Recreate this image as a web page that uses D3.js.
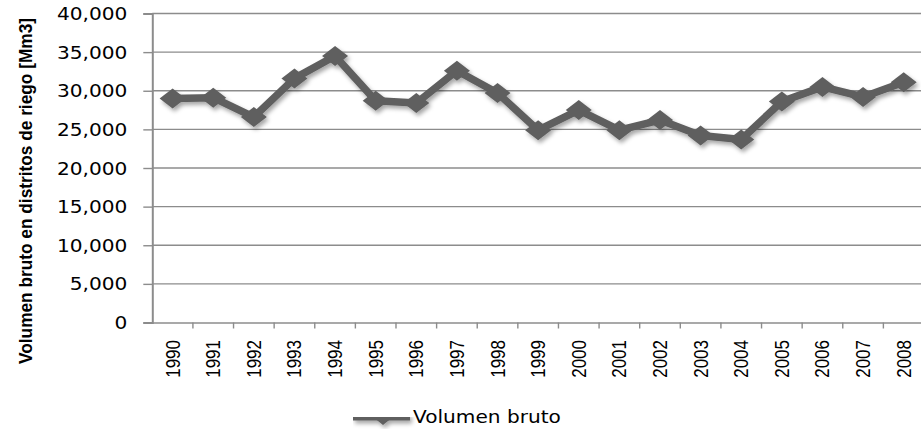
<!DOCTYPE html>
<html>
<head>
<meta charset="utf-8">
<script src="https://cdn.jsdelivr.net/npm/d3@7"></script>
<style>
  body { margin: 0; background: #fff; }
  svg { display: block; }
</style>
</head>
<body>
<div id="chart"></div>
<script>
var years = ["1990", "1991", "1992", "1993", "1994", "1995", "1996", "1997", "1998", "1999",
  "2000", "2001", "2002", "2003", "2004", "2005", "2006", "2007", "2008"];
var volumen = [29000, 29100, 26600, 31600, 34500, 28700, 28400, 32600, 29700, 24900,
  27500, 24900, 26200, 24200, 23700, 28600, 30500, 29200, 31100];
var yTicks = [0, 5000, 10000, 15000, 20000, 25000, 30000, 35000, 40000];
var seriesName = "Volumen bruto";
var yTitle = "Volumen bruto en distritos de riego [Mm3]";

var svgWidth = 921;
var svgHeight = 429;
var stretch = 1.15;  // the source picture is widened, text included

// plot area (window.top is read-only, so no "top" here)
var plot = { left: 152.3, right: 924, top: 13.5, bottom: 322.5 };
var lineColor = "#5f5f5f";
var gridColor = "#8c8c8c";

var svg = d3.select("#chart")
  .append("svg")
  .attr("width", svgWidth)
  .attr("height", svgHeight);

var defs = svg.append("defs");
var shadow = defs.append("filter")
  .attr("id", "shadow")
  .attr("filterUnits", "userSpaceOnUse")
  .attr("x", 0).attr("y", 0)
  .attr("width", svgWidth).attr("height", svgHeight);
shadow.append("feDropShadow")
  .attr("dx", 2).attr("dy", 3)
  .attr("stdDeviation", 2)
  .attr("flood-color", "#000")
  .attr("flood-opacity", 0.35);

var x = d3.scaleBand()
  .domain(years)
  .range([plot.left, plot.right])
  .padding(0);

var y = d3.scaleLinear()
  .domain([0, 40000])
  .range([plot.bottom, plot.top]);

// gridlines
svg.append("g")
  .selectAll("line")
  .data(yTicks.filter(d => d > 0))
  .enter()
  .append("line")
  .attr("x1", plot.left)
  .attr("x2", svgWidth)
  .attr("y1", d => y(d))
  .attr("y2", d => y(d))
  .attr("stroke", gridColor)
  .attr("stroke-width", 1.4);

// y axis
var leftAxis = d3.axisLeft(y)
  .tickValues(yTicks)
  .tickSize(9)
  .tickPadding(16)
  .tickFormat(d3.format(","));

var yAxis = svg.append("g")
  .attr("transform", `translate(${plot.left}, 0)`)
  .call(leftAxis);
yAxis.select(".domain").attr("stroke", gridColor).attr("stroke-width", 2);
yAxis.selectAll(".tick line").attr("stroke", gridColor).attr("stroke-width", 1.4);
yAxis.selectAll(".tick text")
  .attr("font-family", "DejaVu Sans, Verdana, sans-serif")
  .attr("font-size", "17.5px")
  .attr("fill", "#000")
  .attr("x", null)
  .attr("dy", null)
  .attr("dominant-baseline", "central")
  .attr("transform", `translate(-25, 0) scale(${stretch}, 1)`);

// x axis
var bottomAxis = d3.axisBottom(x)
  .tickSize(0)
  .tickFormat("");

var xAxis = svg.append("g")
  .attr("transform", `translate(0, ${plot.bottom})`)
  .call(bottomAxis);
xAxis.select(".domain").attr("stroke", gridColor).attr("stroke-width", 1.6);

// tick marks between categories
xAxis.append("g")
  .selectAll("line")
  .data(years.slice(1))
  .enter()
  .append("line")
  .attr("x1", d => x(d))
  .attr("x2", d => x(d))
  .attr("y1", 0)
  .attr("y2", 6)
  .attr("stroke", gridColor)
  .attr("stroke-width", 1.4);

svg.append("g")
  .selectAll("text")
  .data(years)
  .enter()
  .append("text")
  .attr("transform", d => `translate(${x(d) + x.bandwidth() / 2 + 7}, 340) scale(${stretch}, 1) rotate(-90)`)
  .attr("text-anchor", "end")
  .attr("font-family", "Liberation Sans, Arial, sans-serif")
  .attr("font-size", "17px")
  .attr("fill", "#000")
  .text(d => d);

// y axis title
svg.append("text")
  .attr("transform", "translate(31.5, 191) scale(1.05, 1) rotate(-90)")
  .attr("text-anchor", "middle")
  .attr("font-family", "Liberation Sans Narrow, Arial Narrow, Liberation Sans, sans-serif")
  .attr("font-weight", "bold")
  .attr("font-size", "18px")
  .attr("textLength", 346)
  .attr("lengthAdjust", "spacingAndGlyphs")
  .attr("fill", "#000")
  .text(yTitle);

// series
var points = years.map((d, i) => ({ year: d, value: volumen[i] }));
var cx = d => x(d.year) + x.bandwidth() / 2;

var line = d3.line()
  .x(cx)
  .y(d => y(d.value));

var series = svg.append("g").attr("filter", "url(#shadow)");

series.append("path")
  .datum(points)
  .attr("d", line)
  .attr("fill", "none")
  .attr("stroke", lineColor)
  .attr("stroke-width", 7.5)
  .attr("stroke-linejoin", "round");

var diamond = "M0,-10L13,0L0,10L-13,0Z";
series.selectAll(".marker")
  .data(points)
  .enter()
  .append("path")
  .attr("class", "marker")
  .attr("d", diamond)
  .attr("transform", d => `translate(${cx(d)}, ${y(d.value)})`)
  .attr("fill", lineColor);

// legend
var legend = svg.append("g").attr("transform", "translate(353, 417)");
var legendMark = legend.append("g").attr("filter", "url(#shadow)");
legendMark.append("line")
  .attr("x1", 0).attr("x2", 57)
  .attr("y1", 0).attr("y2", 0)
  .attr("stroke", lineColor)
  .attr("stroke-width", 7);
legendMark.append("path")
  .attr("d", "M0,-8L10,0L0,8L-10,0Z")
  .attr("transform", "translate(30, 0)")
  .attr("fill", lineColor);
legend.append("text")
  .attr("transform", `translate(60, 0) scale(${stretch}, 1)`)
  .attr("dominant-baseline", "central")
  .attr("font-family", "DejaVu Sans, Verdana, sans-serif")
  .attr("font-size", "17.5px")
  .attr("fill", "#000")
  .text(seriesName);
</script>
</body>
</html>
